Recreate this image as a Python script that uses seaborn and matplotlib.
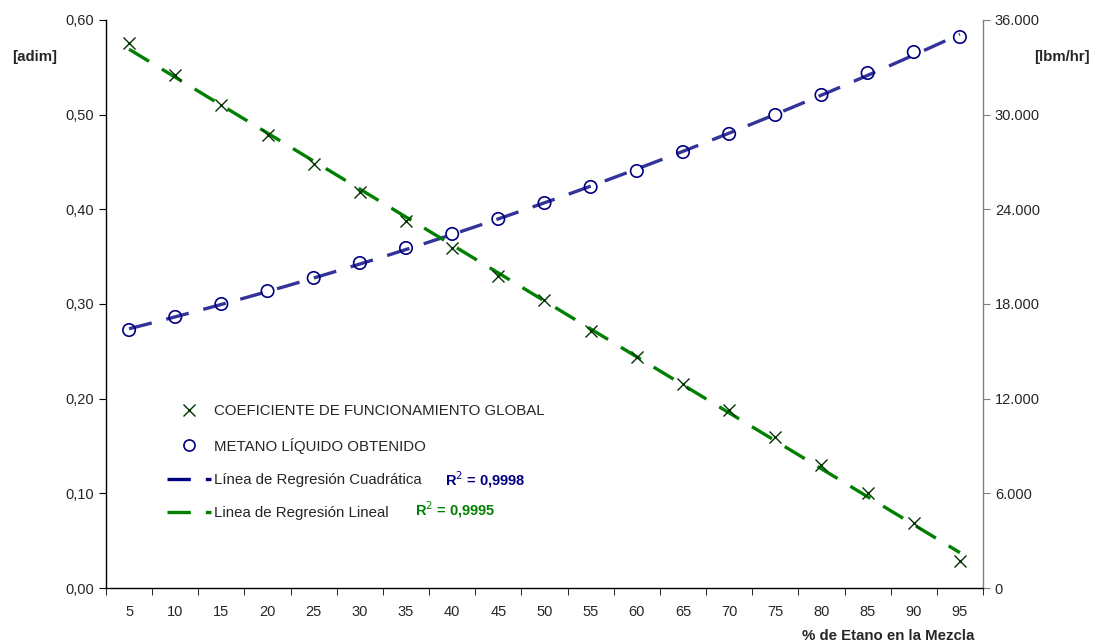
import numpy as np
import pandas as pd
import matplotlib
matplotlib.use("Agg")
import matplotlib.pyplot as plt
import seaborn as sns
from matplotlib.lines import Line2D
from matplotlib.ticker import FuncFormatter, FixedLocator

# data
etano = [5, 10, 15, 20, 25, 30, 35, 40, 45, 50, 55, 60, 65, 70, 75, 80, 85, 90, 95]
coeficiente = [0.576, 0.542, 0.510, 0.479, 0.448, 0.418, 0.388, 0.359, 0.330, 0.304,
               0.272, 0.244, 0.216, 0.188, 0.159, 0.130, 0.100, 0.069, 0.029]
metano = [16350, 17180, 18000, 18820, 19650, 20600, 21550, 22440, 23390, 24400,
          25420, 26430, 27630, 28780, 29980, 31250, 32640, 33970, 34920]
r2_cuad = "0,9998"
r2_lin = "0,9995"

df = pd.DataFrame({"etano": etano, "coef": coeficiente, "metano": metano})

sns.set_style("white")
plt.rcParams["font.family"] = ["Liberation Sans", "DejaVu Sans"]
plt.rcParams["font.size"] = 10.8

fig = plt.figure(figsize=(10.95, 6.44), dpi=100)
ax = fig.add_axes([106 / 1095, 1 - 588 / 644, (983 - 106) / 1095, (588 - 20) / 644])
ax2 = ax.twinx()

verde = "#008000"
azul = "#333399"
lw = 2.4
dash = (7, 4.5)

# regression lines
sns.regplot(data=df, x="etano", y="metano", order=2, ci=None, scatter=False, ax=ax2,
            line_kws=dict(color=azul, lw=lw, dashes=dash))
sns.regplot(data=df, x="etano", y="coef", ci=None, scatter=False, ax=ax,
            line_kws=dict(color=verde, lw=lw, dashes=dash, zorder=3))

# markers
sns.scatterplot(data=df, x="etano", y="coef", marker="x", s=75, color="#003300",
                linewidth=1.0, ax=ax, zorder=4)
sns.scatterplot(data=df, x="etano", y="metano", marker="o", s=80, facecolor="none",
                edgecolor="#000080", linewidth=1.2, ax=ax2, zorder=4)

ax.set_xlim(2.5, 97.5)
ax.set_ylim(0, 0.60)
ax2.set_ylim(0, 36000)
ax.set_zorder(2)
ax.patch.set_visible(False)

ax.set_yticks(np.arange(0, 0.61, 0.10))
ax.yaxis.set_major_formatter(FuncFormatter(lambda v, p: f"{v:.2f}".replace(".", ",")))
ax2.set_yticks(np.arange(0, 36001, 6000))
ax2.yaxis.set_major_formatter(FuncFormatter(lambda v, p: f"{int(v):,}".replace(",", ".")))

ax.set_xticks(etano)
ax.set_xticklabels([str(e) for e in etano])
ax.xaxis.set_minor_locator(FixedLocator(np.arange(2.5, 98, 5)))
ax.tick_params(axis="x", which="major", length=0, pad=12, labelsize=10.5)
ax.tick_params(axis="x", which="minor", length=5, direction="out", bottom=True, color="black")
ax.tick_params(axis="y", length=5, direction="out", left=True, color="black", labelsize=10.5)
ax2.tick_params(axis="y", length=5, direction="out", right=True, color="gray", labelsize=10.5)

ax.set_xlabel("")
ax.set_ylabel("")
ax2.set_ylabel("")

for s in ["top", "right"]:
    ax.spines[s].set_visible(False)
for s in ["top", "left", "bottom"]:
    ax2.spines[s].set_visible(False)
ax.spines["left"].set_color("black")
ax.spines["bottom"].set_color("black")
ax2.spines["right"].set_color("gray")
ax.spines["left"].set_linewidth(1)
ax.spines["bottom"].set_linewidth(1)
ax2.spines["right"].set_linewidth(1)

fig.text(12 / 1095, 1 - 57 / 644, "[adim]", fontweight="bold", ha="left", va="center")
fig.text(1090 / 1095, 1 - 57 / 644, "[lbm/hr]", fontweight="bold", ha="right", va="center")
fig.text(888 / 1095, 1 - 636 / 644, "% de Etano en la Mezcla", fontweight="bold",
         ha="center", va="center")

handles = [
    Line2D([], [], marker="x", color="#003300", lw=0, markersize=8, markeredgewidth=1.0),
    Line2D([], [], marker="o", color="#000080", lw=0, markersize=8, markerfacecolor="none",
           markeredgewidth=1.2),
    Line2D([], [], color="#000080", lw=lw, dashes=dash),
    Line2D([], [], color=verde, lw=lw, dashes=dash),
]
labels = ["COEFICIENTE DE FUNCIONAMIENTO GLOBAL", "METANO LÍQUIDO OBTENIDO",
          "Línea de Regresión Cuadrática", "Linea de Regresión Lineal"]
leg = ax.legend(handles, labels, loc="upper left", bbox_to_anchor=(161 / 1095, 1 - 398 / 644),
                bbox_transform=fig.transFigure, frameon=False, handlelength=2.9,
                labelspacing=1.3, handletextpad=0.25, fontsize=10.8, borderaxespad=0)

fig.text(445 / 1095, 1 - 480 / 644, f"R$^{{2}}$ = {r2_cuad}", color="#000080",
         fontweight="bold", ha="left", va="center", fontsize=10.5)
fig.text(415 / 1095, 1 - 510 / 644, f"R$^{{2}}$ = {r2_lin}", color=verde,
         fontweight="bold", ha="left", va="center", fontsize=10.5)

fig.savefig("out.png", dpi=100)
